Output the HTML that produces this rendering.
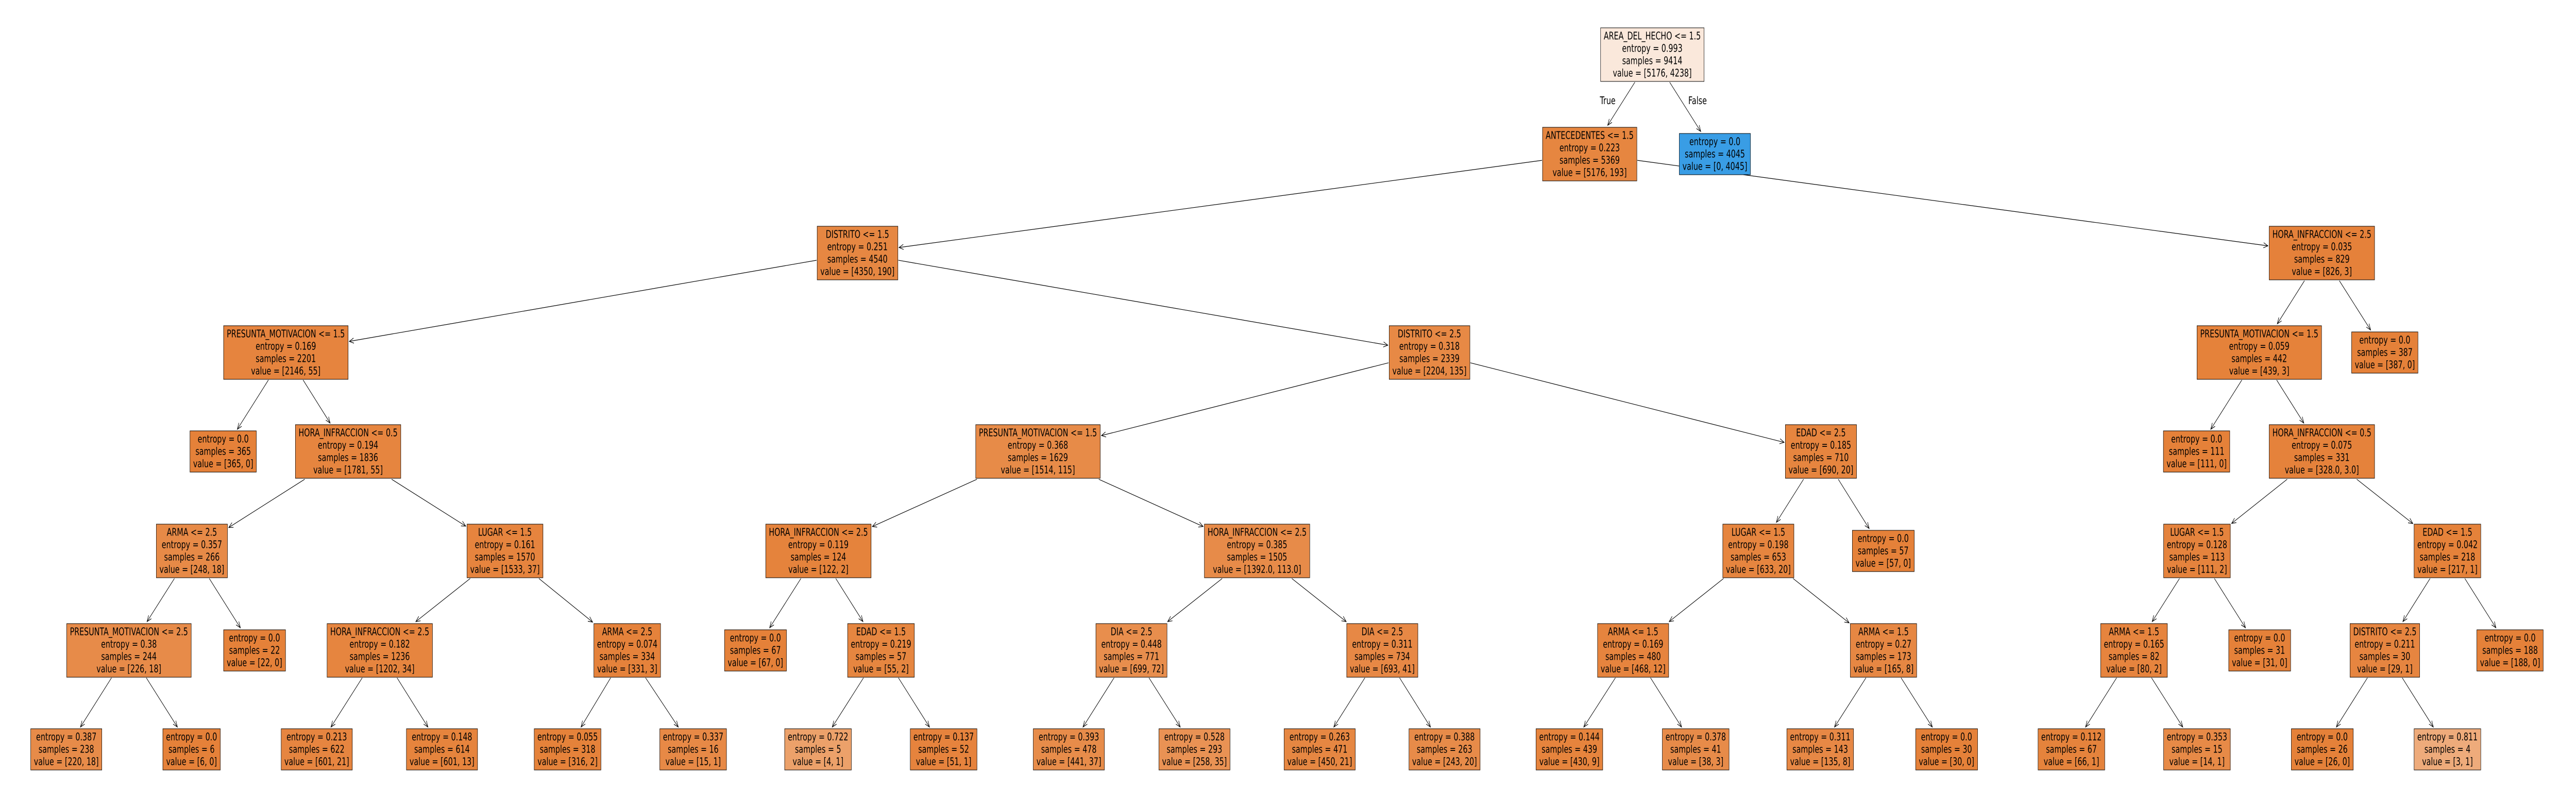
<!DOCTYPE html>
<html><head><meta charset="utf-8">
<style>
html,body{margin:0;padding:0;background:#fff;overflow:hidden;}
#c{position:relative;width:6994px;height:1560px;overflow:hidden;background:#fff;transform-origin:0 0;}
.n{position:absolute;transform:translate(-50%,-50%);font-family:"DejaVu Sans","Liberation Sans",sans-serif;font-size:20px;line-height:24px;text-align:center;white-space:nowrap;padding:3px 8px 4px 8px;border:1.3px solid #000;color:#000;box-sizing:border-box;}
.lbl{position:absolute;transform:translate(-50%,-50%);font-family:"DejaVu Sans","Liberation Sans",sans-serif;font-size:20px;white-space:nowrap;}
svg{position:absolute;left:0;top:0;}
</style></head><body>
<div id="c">
<svg id="s" width="6994" height="1560"></svg>
<div class="lbl" style="left:4365px;top:195px">True</div>
<div class="lbl" style="left:4609px;top:195px">False</div>
</div>
<script>
var N=[
[0,-1,0,4486,["AREA_DEL_HECHO <= 1.5","entropy = 0.993","samples = 9414","value = [5176, 4238]"],[5176,4238]],
[1,0,1,4316,["ANTECEDENTES <= 1.5","entropy = 0.223","samples = 5369","value = [5176, 193]"],[5176,193]],
[2,0,1,4656,["entropy = 0.0","samples = 4045","value = [0, 4045]"],[0,4045]],
[3,1,2,2328,["DISTRITO <= 1.5","entropy = 0.251","samples = 4540","value = [4350, 190]"],[4350,190]],
[4,1,2,6304,["HORA_INFRACCION <= 2.5","entropy = 0.035","samples = 829","value = [826, 3]"],[826,3]],
[5,3,3,776,["PRESUNTA_MOTIVACION <= 1.5","entropy = 0.169","samples = 2201","value = [2146, 55]"],[2146,55]],
[6,3,3,3881,["DISTRITO <= 2.5","entropy = 0.318","samples = 2339","value = [2204, 135]"],[2204,135]],
[7,4,3,6134,["PRESUNTA_MOTIVACION <= 1.5","entropy = 0.059","samples = 442","value = [439, 3]"],[439,3]],
[8,4,3,6475,["entropy = 0.0","samples = 387","value = [387, 0]"],[387,0]],
[9,5,4,606,["entropy = 0.0","samples = 365","value = [365, 0]"],[365,0]],
[10,5,4,945,["HORA_INFRACCION <= 0.5","entropy = 0.194","samples = 1836","value = [1781, 55]"],[1781,55]],
[11,6,4,2818,["PRESUNTA_MOTIVACION <= 1.5","entropy = 0.368","samples = 1629","value = [1514, 115]"],[1514,115]],
[12,6,4,4944,["EDAD <= 2.5","entropy = 0.185","samples = 710","value = [690, 20]"],[690,20]],
[13,7,4,5964,["entropy = 0.0","samples = 111","value = [111, 0]"],[111,0]],
[14,7,4,6304,["HORA_INFRACCION <= 0.5","entropy = 0.075","samples = 331","value = [328.0, 3.0]"],[328,3]],
[15,10,5,521,["ARMA <= 2.5","entropy = 0.357","samples = 266","value = [248, 18]"],[248,18]],
[16,10,5,1371,["LUGAR <= 1.5","entropy = 0.161","samples = 1570","value = [1533, 37]"],[1533,37]],
[17,11,5,2222,["HORA_INFRACCION <= 2.5","entropy = 0.119","samples = 124","value = [122, 2]"],[122,2]],
[18,11,5,3413,["HORA_INFRACCION <= 2.5","entropy = 0.385","samples = 1505","value = [1392.0, 113.0]"],[1392,113]],
[19,12,5,4774,["LUGAR <= 1.5","entropy = 0.198","samples = 653","value = [633, 20]"],[633,20]],
[20,12,5,5113,["entropy = 0.0","samples = 57","value = [57, 0]"],[57,0]],
[21,14,5,5965,["LUGAR <= 1.5","entropy = 0.128","samples = 113","value = [111, 2]"],[111,2]],
[22,14,5,6645,["EDAD <= 1.5","entropy = 0.042","samples = 218","value = [217, 1]"],[217,1]],
[23,15,6,350,["PRESUNTA_MOTIVACION <= 2.5","entropy = 0.38","samples = 244","value = [226, 18]"],[226,18]],
[24,15,6,691,["entropy = 0.0","samples = 22","value = [22, 0]"],[22,0]],
[25,16,6,1031,["HORA_INFRACCION <= 2.5","entropy = 0.182","samples = 1236","value = [1202, 34]"],[1202,34]],
[26,16,6,1703,["ARMA <= 2.5","entropy = 0.074","samples = 334","value = [331, 3]"],[331,3]],
[27,17,6,2051,["entropy = 0.0","samples = 67","value = [67, 0]"],[67,0]],
[28,17,6,2392,["EDAD <= 1.5","entropy = 0.219","samples = 57","value = [55, 2]"],[55,2]],
[29,18,6,3072,["DIA <= 2.5","entropy = 0.448","samples = 771","value = [699, 72]"],[699,72]],
[30,18,6,3753,["DIA <= 2.5","entropy = 0.311","samples = 734","value = [693, 41]"],[693,41]],
[31,19,6,4434,["ARMA <= 1.5","entropy = 0.169","samples = 480","value = [468, 12]"],[468,12]],
[32,19,6,5114,["ARMA <= 1.5","entropy = 0.27","samples = 173","value = [165, 8]"],[165,8]],
[33,21,6,5794,["ARMA <= 1.5","entropy = 0.165","samples = 82","value = [80, 2]"],[80,2]],
[34,21,6,6135,["entropy = 0.0","samples = 31","value = [31, 0]"],[31,0]],
[35,22,6,6475,["DISTRITO <= 2.5","entropy = 0.211","samples = 30","value = [29, 1]"],[29,1]],
[36,22,6,6815,["entropy = 0.0","samples = 188","value = [188, 0]"],[188,0]],
[37,23,7,180,["entropy = 0.387","samples = 238","value = [220, 18]"],[220,18]],
[38,23,7,520,["entropy = 0.0","samples = 6","value = [6, 0]"],[6,0]],
[39,25,7,860,["entropy = 0.213","samples = 622","value = [601, 21]"],[601,21]],
[40,25,7,1200,["entropy = 0.148","samples = 614","value = [601, 13]"],[601,13]],
[41,26,7,1541,["entropy = 0.055","samples = 318","value = [316, 2]"],[316,2]],
[42,26,7,1882,["entropy = 0.337","samples = 16","value = [15, 1]"],[15,1]],
[43,28,7,2221,["entropy = 0.722","samples = 5","value = [4, 1]"],[4,1]],
[44,28,7,2562,["entropy = 0.137","samples = 52","value = [51, 1]"],[51,1]],
[45,29,7,2902,["entropy = 0.393","samples = 478","value = [441, 37]"],[441,37]],
[46,29,7,3243,["entropy = 0.528","samples = 293","value = [258, 35]"],[258,35]],
[47,30,7,3583,["entropy = 0.263","samples = 471","value = [450, 21]"],[450,21]],
[48,30,7,3922,["entropy = 0.388","samples = 263","value = [243, 20]"],[243,20]],
[49,31,7,4261,["entropy = 0.144","samples = 439","value = [430, 9]"],[430,9]],
[50,31,7,4604,["entropy = 0.378","samples = 41","value = [38, 3]"],[38,3]],
[51,32,7,4942,["entropy = 0.311","samples = 143","value = [135, 8]"],[135,8]],
[52,32,7,5285,["entropy = 0.0","samples = 30","value = [30, 0]"],[30,0]],
[53,33,7,5624,["entropy = 0.112","samples = 67","value = [66, 1]"],[66,1]],
[54,33,7,5965,["entropy = 0.353","samples = 15","value = [14, 1]"],[14,1]],
[55,35,7,6305,["entropy = 0.0","samples = 26","value = [26, 0]"],[26,0]],
[56,35,7,6645,["entropy = 0.811","samples = 4","value = [3, 1]"],[3,1]]
];
var c=document.getElementById('c'),s=document.getElementById('s');
var R={};
function col(v){var t=v[0]+v[1],p0=v[0]/t,p1=v[1]/t;var base=p0>=p1?[229,129,57]:[57,157,229];
var hi=Math.max(p0,p1),lo=Math.min(p0,p1);var a=(hi-lo)/(1-lo);
return 'rgb('+base.map(function(x){return Math.round(a*x+(1-a)*255)}).join(',')+')';}
var divs=[];
N.forEach(function(n){var d=document.createElement('div');d.className='n';
var cy=106+192.6*n[2];d.style.left=n[3]+'px';d.style.top=cy+'px';d.style.background=col(n[5]);
d.innerHTML=n[4].join('<br>');c.appendChild(d);divs.push([n,d,cy]);});
divs.forEach(function(x){var w=x[1].offsetWidth,h=x[1].offsetHeight;R[x[0][0]]={cx:x[0][3],cy:x[2],w:w,h:h};});
function clip(B,dx,dy,pad){var hw=B.w/2+pad,hh=B.h/2+pad;var tx=dx?hw/Math.abs(dx):1e9,ty=dy?hh/Math.abs(dy):1e9;return Math.min(tx,ty);}
var h='';
N.forEach(function(n){if(n[1]<0)return;var P=R[n[1]],C=R[n[0]];
var dx=C.cx-P.cx,dy=C.cy-P.cy;var t0=clip(P,dx,dy,1),t1=clip(C,-dx,-dy,3);
var x1=P.cx+dx*t0,y1=P.cy+dy*t0,x2=C.cx-dx*t1,y2=C.cy-dy*t1;
var L=Math.hypot(dx,dy),ux=dx/L,uy=dy/L,al=12,aw=5;
var bx=x2-ux*al,by=y2-uy*al;
h+='<line x1="'+x1+'" y1="'+y1+'" x2="'+x2+'" y2="'+y2+'" stroke="#000" stroke-width="1.2"/>';
h+='<polyline points="'+(bx-uy*aw)+','+(by+ux*aw)+' '+x2+','+y2+' '+(bx+uy*aw)+','+(by-ux*aw)+'" fill="none" stroke="#000" stroke-width="1.2"/>';});
s.innerHTML=h;
function fit(){var w=window.innerWidth||6994,hh=window.innerHeight||1560;
var kx=w/6994,ky=hh/1560;if(!(kx>0)||kx>=0.999)kx=1;if(!(ky>0)||ky>=0.999)ky=1;
c.style.transform=(kx<1||ky<1)?'scale('+kx+','+ky+')':'none';}
fit();window.addEventListener('resize',fit);
</script>
</body></html>
